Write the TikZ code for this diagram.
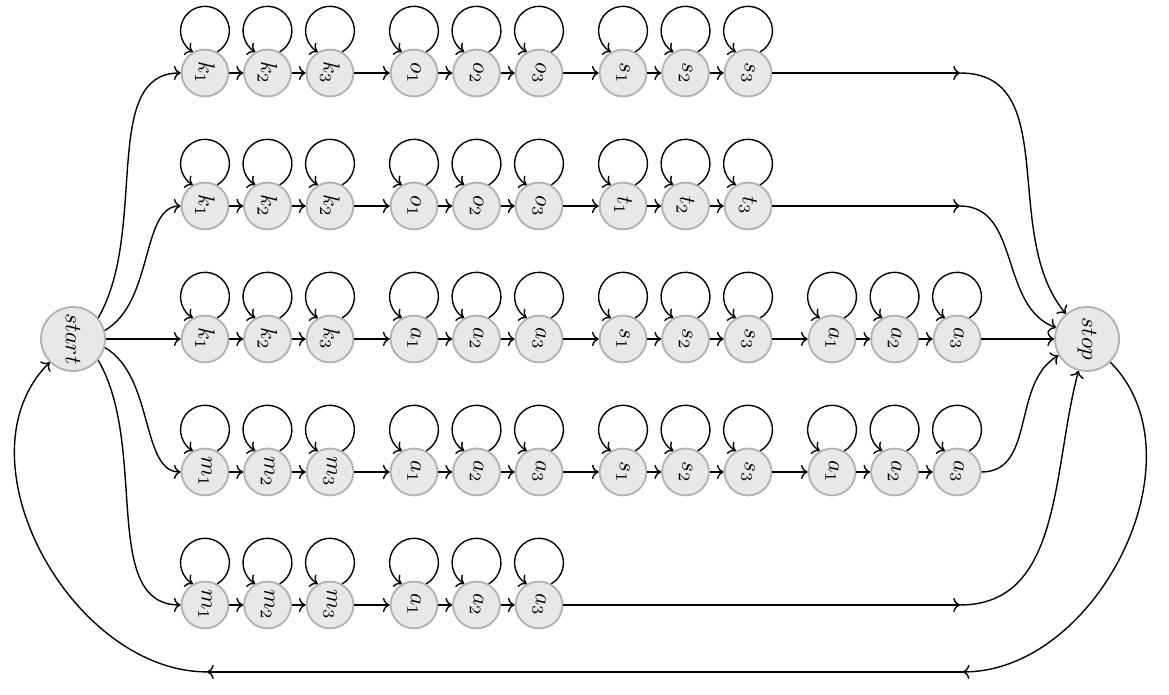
\documentclass[tikz,border=0pt]{standalone}
\usepackage{amsmath,amssymb}
\usepackage{graphicx}
\usepackage{xcolor}
\usepackage{tikz}
\usetikzlibrary{arrows.meta,positioning,calc}

\begin{document}
\begin{tikzpicture}[
  hstate/.style={circle, draw=black!30, fill=black!9, line width=0.8pt, minimum size=0.71cm, inner sep=0pt},
  endpoint/.style={hstate, minimum size=0.97cm},
  arrow/.style={->, line width=0.6pt, black}
]
\useasboundingbox (-1.106,-5.394) rectangle (16.606,5.136);

\node[endpoint] (start) at (0,0) {\rotatebox{-90}{$start$}};
\node[endpoint] (stop) at (15.364,0) {\rotatebox{-90}{$stop$}};

% the five chains of states, three states per group
\foreach \rw/\y/\labs in {
  1/4.03/{k_1,k_2,k_3,o_1,o_2,o_3,s_1,s_2,s_3},
  2/2.015/{k_1,k_2,k_2,o_1,o_2,o_3,t_1,t_2,t_3},
  3/0/{k_1,k_2,k_3,a_1,a_2,a_3,s_1,s_2,s_3,a_1,a_2,a_3},
  4/-2.015/{m_1,m_2,m_3,a_1,a_2,a_3,s_1,s_2,s_3,a_1,a_2,a_3},
  5/-4.03/{m_1,m_2,m_3,a_1,a_2,a_3}}{
  \foreach \l [count=\i, remember=\i as \j (initially 0)] in \labs {
    \pgfmathsetmacro\x{2.0+0.947*mod(\i-1,3)+3.167*floor((\i-1)/3)}
    \node[hstate] (r\rw-\i) at (\x,\y) {\rotatebox{-90}{$\l$}};
    \draw[arrow] (r\rw-\i.60) arc[start angle=-60, end angle=240, radius=0.37cm];
    \ifnum\i>1 \draw[arrow] (r\rw-\j) -- (r\rw-\i); \fi
  }
}

% from start
\draw[arrow] (start.40) to[out=60, in=180, in looseness=0.8] (r1-1);
\draw[arrow] (start.15) to[out=30, in=180, in looseness=0.7] (r2-1);
\draw[arrow] (start) -- (r3-1);
\draw[arrow] (start.-15) to[out=-30, in=180, in looseness=0.7] (r4-1);
\draw[arrow] (start.-40) to[out=-60, in=180, in looseness=0.8] (r5-1);

% into stop
\coordinate (e1) at (13.44,4.03);
\coordinate (e2) at (13.44,2.015);
\coordinate (e5) at (13.44,-4.03);
\draw[arrow] (r1-9) -- (e1);
\draw[arrow] (e1) to[out=0, in=130] (stop);
\draw[arrow] (r2-9) -- (e2);
\draw[arrow] (e2) to[out=0, in=160] (stop);
\draw[arrow] (r3-12) -- (stop);
\draw[arrow] (r4-12) to[out=0, in=-150] (stop);
\draw[arrow] (r5-6) -- (e5);
\draw[arrow] (e5) to[out=0, in=-105] (stop);

% back to start
\coordinate (b1) at (13.48,-5.044);
\coordinate (b2) at (2.03,-5.044);
\draw[arrow] (stop) to[out=-45, in=0] (b1);
\draw[arrow] (b1) -- (b2);
\draw[arrow] (b2) to[out=180, in=-135] (start);

\end{tikzpicture}
\end{document}
